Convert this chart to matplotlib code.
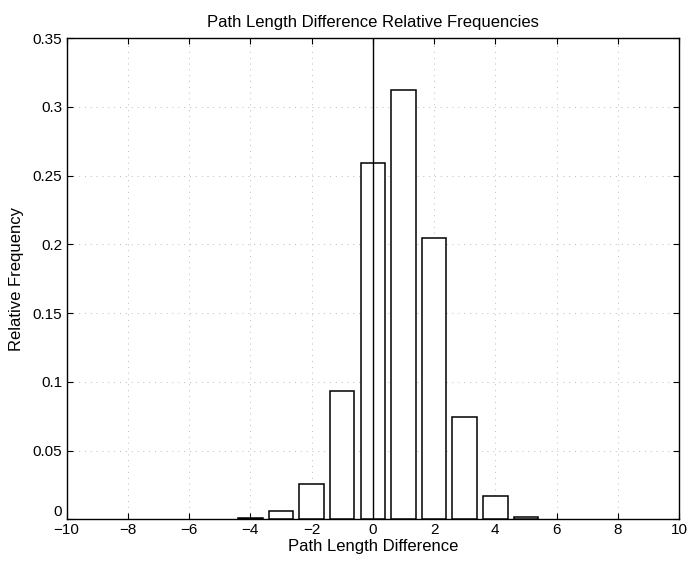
import numpy as np
import matplotlib
matplotlib.use("Agg")
import matplotlib.pyplot as plt

# data
bin_centers = [-4, -3, -2, -1, 0, 1, 2, 3, 4, 5]
rel_freq = [0.0006, 0.0058, 0.0257, 0.0934, 0.259, 0.312, 0.205, 0.0745, 0.017, 0.0015]
x_ticks = [-10, -8, -6, -4, -2, 0, 2, 4, 6, 8, 10]
y_ticks = [0, 0.05, 0.1, 0.15, 0.2, 0.25, 0.3, 0.35]
y_ticklabels = ["0", "0.05", "0.1", "0.15", "0.2", "0.25", "0.3", "0.35"]

plt.rcParams['font.family'] = ['Liberation Sans', 'DejaVu Sans']

fig = plt.figure(figsize=(6.88, 5.62), dpi=100)
ax = fig.add_axes([0.0967, 0.076, 0.8903, 0.856])

ax.bar(bin_centers, rel_freq, width=0.8, color="white", edgecolor="black",
       linewidth=1.1, zorder=3)

# vertical reference line at zero
ax.plot([0, 0], [0, 0.35], color="black", linewidth=1.0, zorder=4)

ax.set_xlim(-10, 10)
ax.set_ylim(0, 0.35)
ax.set_xticks(x_ticks)
ax.set_xticklabels([str(t).replace("-", "\u2212") for t in x_ticks])
ax.set_yticks(y_ticks)
ax.set_yticklabels(y_ticklabels)

ax.tick_params(direction="in", top=True, right=True, length=4, width=0.8,
               labelsize=11, pad=3)
# MATLAB puts the "0" of the y axis just above the x labels
ax.get_yticklabels()[0].set_verticalalignment("bottom")
ax.grid(True, linestyle=(0, (1, 5)), color="#bbbbbb", linewidth=0.7, zorder=0)
for s in ax.spines.values():
    s.set_linewidth(1.0)

ax.set_title("Path Length Difference Relative Frequencies", fontsize=12, pad=8)
ax.set_xlabel("Path Length Difference", fontsize=12, labelpad=1)
ax.set_ylabel("Relative Frequency", fontsize=12, labelpad=6)

fig.savefig("out.png", dpi=100)
